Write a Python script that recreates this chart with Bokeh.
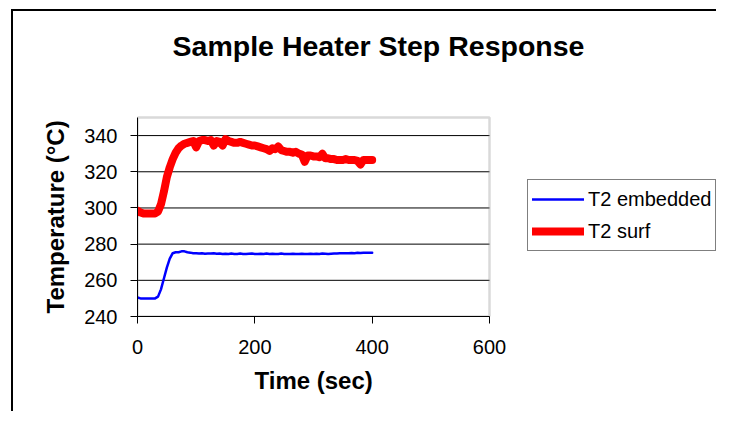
from bokeh.plotting import figure
from bokeh.models import Range1d, FixedTicker, Legend, LegendItem, Label, BoxAnnotation, Title
from bokeh.embed import file_html
from bokeh.resources import INLINE

# ---- data ----
time_s = [0, 5, 10, 15, 20, 25, 30, 35, 40, 45, 50, 55, 60, 65, 70, 75, 80, 85, 90, 95,
          100, 105, 110, 115, 120, 125, 130, 135, 140, 145, 150, 155, 160, 165, 170, 175,
          180, 185, 190, 195, 200, 205, 210, 215, 220, 225, 230, 235, 240, 245, 250, 255,
          260, 265, 270, 275, 280, 285, 290, 295, 300, 305, 310, 315, 320, 325, 330, 335,
          340, 345, 350, 355, 360, 365, 370, 375, 380, 385, 390, 395, 400]

t2_embedded = [250.5, 250, 250, 250, 250, 250, 250, 251, 255, 261, 267, 272, 275, 275.5,
               275.5, 276, 276, 275.5, 275.3, 275, 275, 274.8, 275, 274.7, 274.8, 274.8,
               275, 274.7, 274.8, 274.5, 274.7, 274.6, 274.8, 274.6, 274.6, 274.8, 274.6,
               274.6, 274.7, 274.8, 274.6, 274.6, 274.7, 274.6, 274.8, 274.6, 274.7, 274.6,
               274.6, 274.8, 274.6, 274.6, 274.5, 274.7, 274.6, 274.6, 274.7, 274.5, 274.6,
               274.7, 274.6, 274.7, 274.6, 274.8, 274.7, 274.6, 274.7, 274.8, 274.8, 274.9,
               275, 274.9, 275, 275.1, 275, 275.2, 275.1, 275.2, 275.2, 275.3, 275.3]

t2_surf = [298.5, 297.5, 297, 297, 297, 297, 297, 298, 302, 309, 317, 322.5, 327, 330.5,
           333, 334.5, 335.5, 336, 336.5, 337, 333.5, 337, 337.5, 337.5, 337, 337.5, 334.5,
           337, 336.5, 334.5, 338, 337, 336.5, 336, 336, 336.5, 336, 335.5, 335, 334.5,
           334.5, 334, 333.5, 333, 332.5, 331.5, 333, 332.5, 334, 332, 331.5, 331, 331,
           330.5, 331, 330, 329.5, 325.5, 329, 329, 328.5, 328.5, 328, 330, 327.5, 327.5,
           327, 327, 326.5, 326.5, 326.5, 327, 326.5, 326.5, 326.5, 326, 324, 326.5,
           326.5, 326.5, 326.5]

x_ticks = [0, 200, 400, 600]
y_ticks = [240, 260, 280, 300, 320, 340]
x_axis_min, x_axis_max = 0, 600
y_axis_min, y_axis_max = 240, 350

title_text = "Sample Heater Step Response"
x_label = "Time (sec)"
y_label = "Temperature (°C)"
series_names = ["T2 embedded", "T2 surf"]

FONT = "Liberation Sans"

# ---- layout (pixels) ----
W, H = 716, 411
PLOT_L, PLOT_R, PLOT_T, PLOT_B = 137, 489, 117, 316   # plot-area box on the canvas

# The frame runs from the plot area to the canvas' right and top edges, so that the
# legend and the chart title (drawn inside the frame) are not clipped; the axes are
# bounded to the plot area.
x_scale = (x_axis_max - x_axis_min) / (PLOT_R - PLOT_L)
y_scale = (y_axis_max - y_axis_min) / (PLOT_B - PLOT_T)
x_end = x_axis_min + (W - PLOT_L) * x_scale
y_end = y_axis_min + PLOT_B * y_scale

p = figure(width=W, height=H, output_backend="svg", toolbar_location=None, title=None,
           x_range=Range1d(x_axis_min, x_end), y_range=Range1d(y_axis_min, y_end),
           min_border_left=PLOT_L, min_border_right=0,
           min_border_top=0, min_border_bottom=H - PLOT_B)

p.background_fill_alpha = 0
p.border_fill_alpha = 0
p.outline_line_color = None
# white page with the outer chart-area border (left and top edges)
p.styles = {
    "background": "linear-gradient(#000,#000) 11px 9px / 2px 100% no-repeat, "
                  "linear-gradient(#000,#000) 11px 9px / 100% 2px no-repeat, #fff"
}

# plot-area border (grey)
p.add_layout(BoxAnnotation(left=x_axis_min, right=x_axis_max,
                           bottom=y_axis_min, top=y_axis_max,
                           fill_alpha=0, line_color="#808080", line_width=2.5,
                           level="underlay"))

# horizontal gridlines across the plot area only
p.segment(x0=x_axis_min, x1=x_axis_max, y0=y_ticks, y1=y_ticks,
          line_color="black", line_width=1, level="underlay")
p.xgrid.grid_line_color = None
p.ygrid.grid_line_color = None

# axes
for ax in (p.xaxis, p.yaxis):
    ax.axis_line_color = "black"
    ax.axis_line_width = 1
    ax.major_tick_line_color = "black"
    ax.major_tick_in = 0
    ax.major_tick_out = 7
    ax.minor_tick_line_color = None
    ax.major_label_text_font = FONT
    ax.major_label_text_font_size = "20px"
    ax.major_label_text_color = "black"

p.xaxis.bounds = (x_axis_min, x_axis_max)
p.yaxis.bounds = (y_axis_min, y_axis_max)
p.xaxis.ticker = FixedTicker(ticks=x_ticks)
p.yaxis.ticker = FixedTicker(ticks=y_ticks)
p.xaxis.major_label_standoff = 16
p.yaxis.major_label_standoff = 13

# axis titles (placed along the plot area, not the whole frame)
p.add_layout(Title(text=y_label, align="left", offset=3, vertical_align="bottom",
                   standoff=26, text_font=FONT, text_font_size="24px",
                   text_font_style="bold", text_color="black"), "left")
p.add_layout(Title(text=x_label, align="left", offset=117, vertical_align="top",
                   standoff=21, text_font=FONT, text_font_size="24px",
                   text_font_style="bold", text_color="black"), "below")

# series
r_blue = p.line(time_s, t2_embedded, line_color="#0000FF", line_width=2.5,
                line_join="round", line_cap="round")
r_red = p.line(time_s, t2_surf, line_color="#FF0000", line_width=8,
               line_join="round", line_cap="round")

legend = Legend(items=[LegendItem(label=series_names[0], renderers=[r_blue]),
                       LegendItem(label=series_names[1], renderers=[r_red])],
                location=(527 - PLOT_L, PLOT_B - 251))
legend.label_text_font = FONT
legend.label_text_font_size = "20px"
legend.label_text_color = "black"
legend.glyph_width = 52
legend.glyph_height = 30
legend.label_height = 30
legend.label_width = 120
legend.label_standoff = 4
legend.padding = 4
legend.spacing = 2
legend.margin = 0
legend.border_line_color = "black"
legend.border_line_width = 1
legend.background_fill_color = "white"
legend.background_fill_alpha = 1
p.add_layout(legend, "center")

# chart title
p.add_layout(Label(x=378 - PLOT_L, y=PLOT_B - 45, x_units="screen", y_units="screen",
                   text=title_text, text_align="center", text_baseline="middle",
                   text_font=FONT, text_font_size="28.5px", text_font_style="bold",
                   text_color="black"))

open("out.html", "w").write(file_html(p, INLINE))
